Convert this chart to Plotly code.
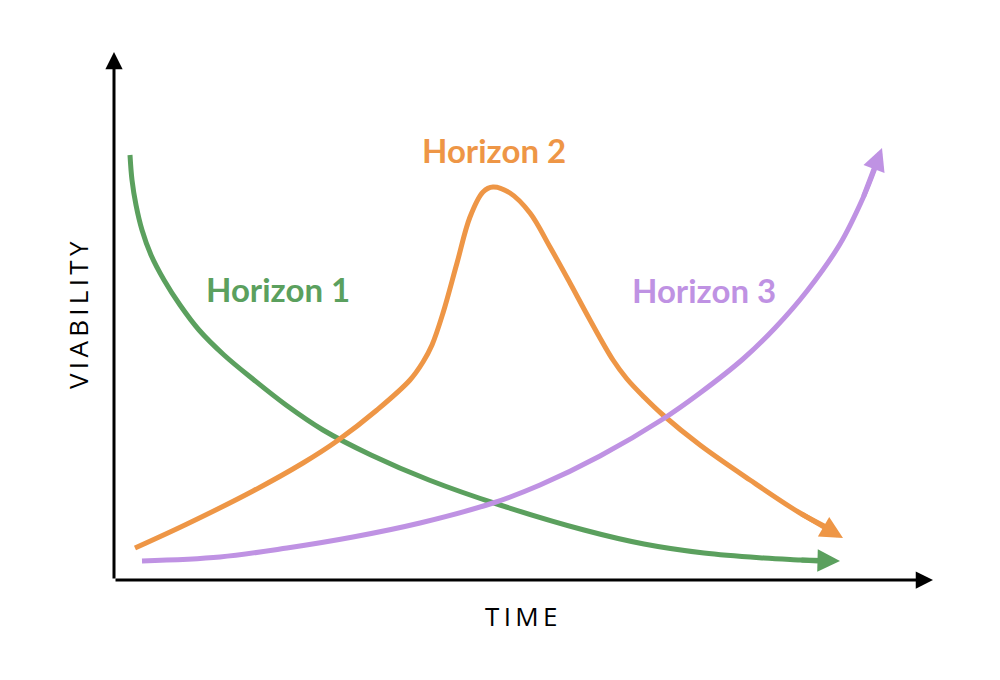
import plotly.graph_objects as go

# Curves in chart units (time, viability)
h1_time = [16, 18, 22, 28, 37, 50, 66, 85, 110, 140, 172, 209, 257, 315, 386, 470, 530, 590, 650, 686, 704]
h1_viab = [425, 400, 375, 350, 325, 300, 275, 250, 225, 200, 175, 150, 125, 100, 75, 50, 36, 27, 22, 20, 19]

h2_time = [21, 73, 139, 189, 223, 263, 296, 309, 318, 329, 343, 356, 369, 379, 396, 416, 436, 456, 476, 499, 513, 530, 549, 586, 636, 686, 712]
h2_viab = [32, 56, 89, 117, 139, 170, 200, 218, 235, 267, 317, 363, 388, 393, 387, 367, 333, 297, 260, 220, 201, 183, 165, 135, 100, 67, 53]

h3_time = [28, 106, 173, 239, 306, 379, 426, 486, 549, 586, 629, 661, 693, 726, 749, 761]
h3_viab = [19, 23, 32, 43, 57, 77, 95, 124, 161, 187, 221, 252, 289, 336, 382, 412]

# arrow shafts: (tail, tip) at the end of each curve
h1_arrow = ((686, 20), (726, 19))
h2_arrow = ((686, 67), (729, 42))
h3_arrow = ((749, 382), (768, 432))

labels = ["Horizon 1", "Horizon 2", "Horizon 3"]
label_pos = [(164, 291), (380, 430), (590, 290)]
colors = ["#5BA05E", "#EE9646", "#BF92E3"]

x_title = "T\u2009I\u2009M\u2009E"
y_title = "V\u2009I\u2009A\u2009B\u2009I\u2009L\u2009I\u2009T\u2009Y"
axis_x_end = 819
axis_y_end = 528

fig = go.Figure()
series = [(h1_time, h1_viab, h1_arrow), (h2_time, h2_viab, h2_arrow), (h3_time, h3_viab, h3_arrow)]
for (xs, ys, (tail, tip)), c in zip(series, colors):
    fig.add_trace(go.Scatter(x=xs, y=ys, mode="lines",
                             line=dict(color=c, width=5, shape="spline", smoothing=1.0),
                             hoverinfo="skip", showlegend=False))
    fig.add_annotation(x=tip[0], y=tip[1], ax=tail[0], ay=tail[1], xref="x", yref="y",
                       axref="x", ayref="y", showarrow=True, arrowhead=2, arrowsize=0.9,
                       arrowwidth=5, arrowcolor=c, text="")

# axes with arrows
fig.add_annotation(x=axis_x_end, y=0, ax=0, ay=0, xref="x", yref="y", axref="x", ayref="y",
                   showarrow=True, arrowhead=2, arrowsize=1.15, arrowwidth=3, arrowcolor="black", text="")
fig.add_annotation(x=0, y=axis_y_end, ax=0, ay=0, xref="x", yref="y", axref="x", ayref="y",
                   showarrow=True, arrowhead=2, arrowsize=1.15, arrowwidth=3, arrowcolor="black", text="")

for lab, (lx, ly), c in zip(labels, label_pos, colors):
    fig.add_annotation(x=lx, y=ly, xref="x", yref="y", text="<b>%s</b>" % lab, showarrow=False,
                       font=dict(family="Lato", size=33, color=c))

fig.add_annotation(x=407, y=-36, xref="x", yref="y", text=x_title, showarrow=False,
                   font=dict(family="Open Sans", size=26, color="black"))
fig.add_annotation(x=-36, y=265, xref="x", yref="y", text=y_title, showarrow=False, textangle=-90,
                   font=dict(family="Open Sans", size=26, color="black"))

# the page has an 8px body margin, so the figure is 984x664 placed at (8, 8)
fig.update_layout(width=984, height=664, margin=dict(l=0, r=0, t=0, b=0),
                  paper_bgcolor="white", plot_bgcolor="white",
                  xaxis=dict(range=[-106, 878], visible=False, fixedrange=True),
                  yaxis=dict(range=[-92, 572], visible=False, fixedrange=True))
fig.write_html("out.html")
